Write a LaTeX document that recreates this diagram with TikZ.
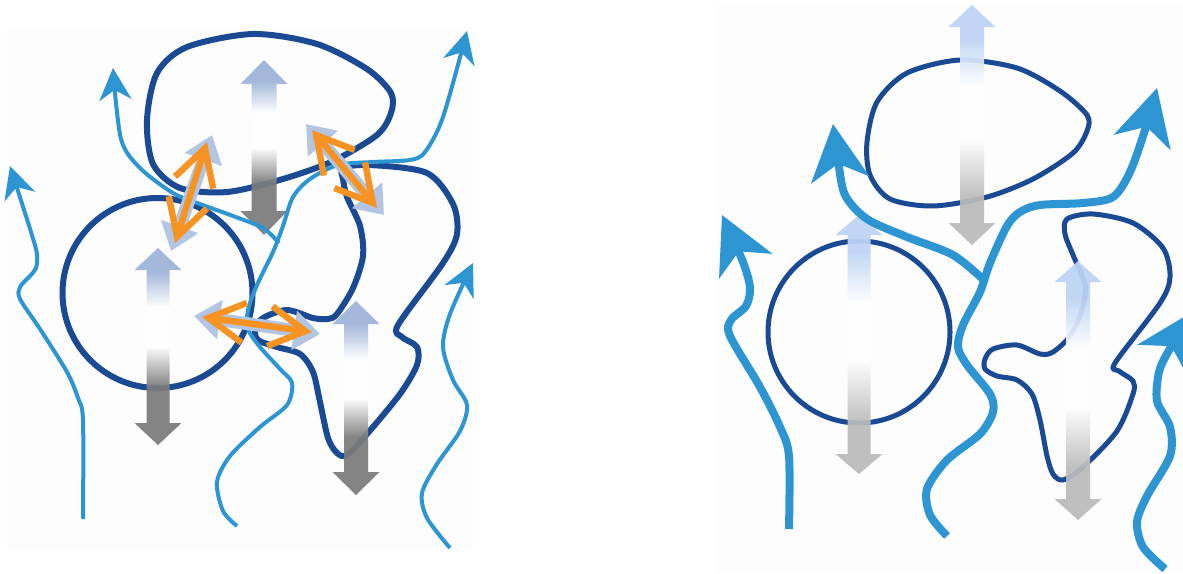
\documentclass[tikz,border=0pt]{standalone}
\usetikzlibrary{arrows.meta}
\definecolor{dblue}{RGB}{27,74,148}
\definecolor{lblue}{RGB}{46,149,211}
\definecolor{myorange}{RGB}{247,147,35}
\definecolor{shadowblue}{RGB}{178,197,226}
\definecolor{panelbg}{RGB}{253,253,253}
\definecolor{bL}{RGB}{157,179,216}
\definecolor{gL}{RGB}{123,123,123}
\definecolor{bR}{RGB}{189,212,244}
\definecolor{gR}{RGB}{187,187,187}
\pgfdeclareverticalshading{arrL}{100bp}{color(0bp)=(gL); color(40bp)=(gL); color(50bp)=(white); color(60bp)=(white); color(69bp)=(bL); color(100bp)=(bL)}
\pgfdeclareverticalshading{arrR}{100bp}{color(0bp)=(gR); color(35bp)=(gR); color(47bp)=(white); color(58bp)=(white); color(68bp)=(bR); color(100bp)=(bR)}
\newcommand\gradarrow[7]{%
  \shade[shading=#7, opacity=0.93] (#1,#2) -- ({#1+#5},{#2+#4}) -- ({#1+#6},{#2+#4}) -- ({#1+#6},{#3-#4}) -- ({#1+#5},{#3-#4}) -- (#1,#3) -- ({#1-#5},{#3-#4}) -- ({#1-#6},{#3-#4}) -- ({#1-#6},{#2+#4}) -- ({#1-#5},{#2+#4}) -- cycle;}
\tikzset{
  outlineL/.style={draw=dblue, line width=3pt, line join=round},
  outlineR/.style={draw=dblue, line width=2.5pt, line join=round},
  flowL/.style={draw=lblue, line width=2pt, -{Stealth[length=16pt,width=16pt,inset=5pt]}},
  flowR/.style={draw=lblue, line width=4pt, -{Stealth[length=28pt,width=29pt,inset=8pt]}},
  shadowarr/.style={draw=shadowblue, line width=6.5pt, {Triangle[length=13pt,width=19pt]}-{Triangle[length=13pt,width=19pt]}},
  orangearr/.style={draw=myorange, line width=3.2pt, {Straight Barb[length=18pt,width=20pt]}-{Straight Barb[length=18pt,width=20pt]}},
}
\begin{document}
\begin{tikzpicture}[x=0.5pt,y=-0.5pt]
\useasboundingbox (0,0) rectangle (1183,573);
\clip (0,0) rectangle (1183,573);
\fill[white] (0,0) rectangle (1183,573);
\fill[panelbg] (7,28) rectangle (473,550);
\fill[panelbg] (717,5) rectangle (1183,573);

% ---------------- left panel ----------------
% outlines
\draw[outlineL] (157.5,293) circle[radius=95];
\draw[outlineL] plot[smooth cycle] coordinates {(147,120) (157,73) (187,47) (253,34) (317,44) (367,69) (391,93) (391,113) (377,135) (333,161) (283,179) (227,192) (180,188) (153,164)};
\draw[outlineL] plot[smooth cycle] coordinates {(343,168) (370,165) (427,173) (453,204) (457,234) (443,263) (398,325) (402,337) (417,347) (417,365) (400,394) (367,434) (347,455) (337,453) (328,438) (320,402) (313,372) (300,354) (277,347) (258,340) (255,329) (263,318) (287,310) (313,318) (328,319) (337,314) (353,288) (363,256) (360,226) (347,197) (343,179)};
% gradient arrows
\gradarrow{158}{248}{445}{22}{23.5}{11.5}{arrL}
\gradarrow{264}{60}{235}{24}{23.5}{12.5}{arrL}
\gradarrow{356}{301}{495}{23}{23.5}{12}{arrL}
% flow lines
\draw[flowL] plot[smooth] coordinates {(83,519) (83,420) (78,398) (67,372) (40,329) (20,299) (20,287) (30,276) (36,268) (37,254) (31,232) (10,166)};
\draw[flowL] plot[smooth] coordinates {(279,243) (263,228) (233,216) (200,204) (173,193) (140,168) (121,139) (113,68)};
\draw[flowL] plot[smooth] coordinates {(237,526) (223,511) (217,482) (230,456) (260,427) (287,405) (292,383) (280,369) (260,347) (248,329) (248,310) (257,285) (273,252) (283,226) (293,197) (310,179) (338,165) (373,162) (410,160) (425,152) (443,117) (467,31)};
\draw[flowL] plot[smooth] coordinates {(450,548) (427,518) (422,493) (437,464) (460,431) (467,405) (453,380) (443,347) (450,314) (473,263)};
% orange arrows with shadows
\draw[shadowarr] (171,251) -- (212,135);
\draw[shadowarr] (306,124) -- (384,215);
\draw[shadowarr] (194,316) -- (320,334);
\draw[orangearr] (175,243) -- (207,142);
\draw[orangearr] (312,130) -- (377,208);
\draw[orangearr] (202,317) -- (312,332);

% ---------------- right panel ----------------
\draw[outlineR] (859,332) circle[radius=91];
\draw[outlineR] plot[smooth cycle] coordinates {(867,142) (877,102) (907,73) (960,60) (1017,68) (1060,91) (1087,115) (1087,131) (1073,153) (1033,179) (987,197) (933,206) (890,199) (870,175)};
\draw[outlineR] plot[smooth cycle] coordinates {(1067,219) (1093,214) (1133,223) (1163,248) (1170,277) (1160,303) (1115,363) (1119,371) (1133,381) (1133,394) (1117,431) (1083,467) (1063,480) (1053,474) (1047,456) (1040,420) (1032,394) (1017,380) (997,376) (985,369) (985,359) (993,349) (1017,345) (1040,354) (1053,352) (1070,336) (1082,310) (1085,285) (1073,255) (1065,234)};
\gradarrow{859}{215}{474}{20}{23.5}{11.5}{arrR}
\gradarrow{972}{5}{245}{22}{23.5}{12}{arrR}
\gradarrow{1078}{261}{520}{21}{23.5}{12}{arrR}
\draw[flowR] plot[smooth] coordinates {(789,529) (789,456) (780,427) (760,387) (730,336) (731,320) (746,306) (750,288) (743,262) (722,215)};
\draw[flowR] plot[smooth] coordinates {(985,281) (953,255) (907,237) (867,219) (845,195) (838,160) (833,124)};
\draw[flowR] plot[smooth] coordinates {(947,536) (930,515) (927,489) (947,460) (980,434) (993,412) (990,394) (967,365) (958,347) (963,325) (980,292) (990,263) (1007,226) (1020,212) (1040,205) (1083,203) (1113,197) (1130,172) (1145,130) (1157,88)};
\draw[flowR] plot[smooth] coordinates {(1165,569) (1143,547) (1137,522) (1147,496) (1170,456) (1170,427) (1157,401) (1159,372) (1168,352) (1192,312)};
\end{tikzpicture}
\end{document}
